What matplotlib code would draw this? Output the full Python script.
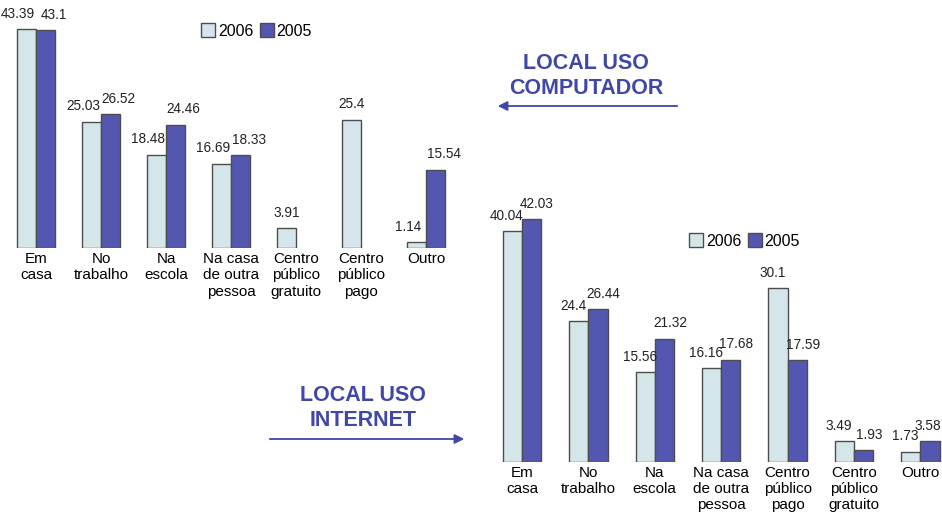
import matplotlib
matplotlib.use("Agg")
import matplotlib.pyplot as plt
import numpy as np
from matplotlib.patches import Patch

plt.rcParams['font.family'] = ['Liberation Sans', 'DejaVu Sans']

# ---- data ----
cats_comp = ["Em\ncasa", "No\ntrabalho", "Na\nescola", "Na casa\nde outra\npessoa",
             "Centro\npúblico\ngratuito", "Centro\npúblico\npago", "Outro"]
comp_2006 = [43.39, 25.03, 18.48, 16.69, 3.91, 25.4, 1.14]
comp_2005 = [43.1, 26.52, 24.46, 18.33, None, None, 15.54]

cats_net = ["Em\ncasa", "No\ntrabalho", "Na\nescola", "Na casa\nde outra\npessoa",
            "Centro\npúblico\npago", "Centro\npúblico\ngratuito", "Outro"]
net_2006 = [40.04, 24.4, 15.56, 16.16, 30.1, 3.49, 1.73]
net_2005 = [42.03, 26.44, 21.32, 17.68, 17.59, 1.93, 3.58]

series_names = ["2006", "2005"]

C06 = "#D4E6EA"
C05 = "#5457B0"
EDGE = "#4d4d4d"
BLUE = "#3F47A8"

W, H = 942, 515
fig = plt.figure(figsize=(W / 100, H / 100), dpi=100)
labels = []


def px_axes(left, right, base, top):
    return fig.add_axes([left / W, (H - base) / H, (right - left) / W, (base - top) / H])


def draw(ax, cats, v06, v05, ymax, xmax, shift):
    x = np.arange(len(cats))
    bw = 0.29
    for vals, other, off, col, sgn in ((v06, v05, -bw / 2, C06, -1), (v05, v06, bw / 2, C05, 1)):
        for xi, v, o in zip(x, vals, other):
            if v is None:
                continue
            ax.bar(xi + off, v, width=bw, color=col, edgecolor=EDGE, linewidth=1.0)
            dx = sgn * shift if o is not None else 0
            t = ax.annotate(f"{v:g}", (xi + off, v), xytext=(dx, 6), textcoords="offset points",
                            ha="center", va="bottom", fontsize=9.8, color="#222222")
            labels.append(t)
    ax.set_xlim(-0.5, xmax)
    ax.set_ylim(0, ymax)
    ax.set_xticks(x)
    ax.set_xticklabels(cats, fontsize=11, linespacing=1.2)
    ax.tick_params(axis="x", length=0, pad=3)
    ax.set_yticks([])
    for s in ax.spines.values():
        s.set_visible(False)
    ax.patch.set_alpha(0)


# left chart: computer
ax1 = px_axes(3.5, 458.5, 248, 248 - 45 * 5.047)
draw(ax1, cats_comp, comp_2006, comp_2005, 45, 6.5, 6)

# right chart: internet
ax2 = px_axes(488.8, 942, 461.5, 461.5 - 46 * 5.76)
draw(ax2, cats_net, net_2006, net_2005, 46, 6.325, 4)

handles = [Patch(facecolor=C06, edgecolor=EDGE), Patch(facecolor=C05, edgecolor=EDGE)]
for bx, by in ((201, 31), (689, 241)):
    fig.legend(handles, series_names, loc="center left", bbox_to_anchor=(bx / W, 1 - by / H),
               ncol=2, frameon=False, fontsize=11.5, handlelength=0.9, handleheight=0.9,
               handletextpad=0.15, columnspacing=0.4, borderpad=0, borderaxespad=0)

# annotations
fig.text(586 / W, 1 - 76 / H, "LOCAL USO\nCOMPUTADOR", ha="center", va="center",
         fontsize=15.5, fontweight="bold", color=BLUE, linespacing=1.3)
fig.add_artist(matplotlib.patches.FancyArrowPatch((680 / W, 1 - 106 / H), (495 / W, 1 - 106 / H),
               transform=fig.transFigure, arrowstyle="-|>", mutation_scale=14,
               color=BLUE, linewidth=1.3))

fig.text(363 / W, 1 - 408 / H, "LOCAL USO\nINTERNET", ha="center", va="center",
         fontsize=15.5, fontweight="bold", color=BLUE, linespacing=1.3)
fig.add_artist(matplotlib.patches.FancyArrowPatch((267 / W, 1 - 439 / H), (467 / W, 1 - 439 / H),
               transform=fig.transFigure, arrowstyle="-|>", mutation_scale=14,
               color=BLUE, linewidth=1.3))

# keep value labels inside the figure
fig.canvas.draw()
r = fig.canvas.get_renderer()
for t in labels:
    bb = t.get_window_extent(r)
    over = bb.x1 - (W - 1)
    if over > 0:
        dx, dy = t.xyann
        t.xyann = (dx - over * 72 / 100, dy)

fig.savefig("out.png", dpi=100)
